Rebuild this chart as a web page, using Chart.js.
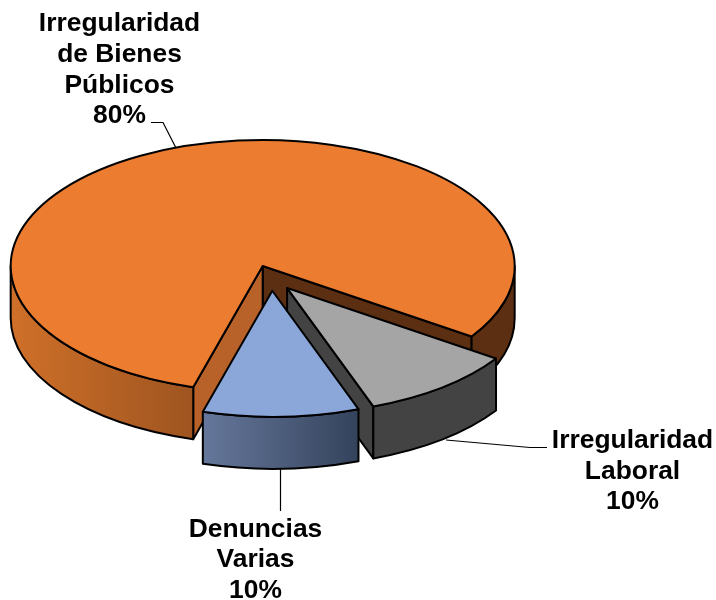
<!DOCTYPE html>
<html><head><meta charset="utf-8">
<style>html,body{margin:0;padding:0;background:#fff}#w{width:716px;height:600px}</style>
<script src="https://cdn.jsdelivr.net/npm/chart.js@4"></script></head>
<body><div id="w"><canvas id="c"></canvas></div>
<script>
const categories = ['Irregularidad de Bienes Públicos','Irregularidad Laboral','Denuncias Varias'];
const values = [80,10,10];
const labelLines = [['Irregularidad','de Bienes','Públicos'],['Irregularidad','Laboral'],['Denuncias','Varias']];
const topColors = ['#EB7C30','#A5A5A5','#8BA7DA'];
const wallStops = [
  [[0,'#CF7029'],[0.36,'#9F5520'],[0.9,'#5C2F13'],[1,'#5C2F13']],
  [[0,'#434343'],[1,'#434343']],
  [[0,'#65779B'],[1,'#34435C']]
];
const startFaceColors = ['#B8622A','#434343','#434343'];
const endFaceColors = ['#5C2F13','#434343','#34435C'];
const TILT = 0.5, DEPTH = 52, EXPLODE = 25.5, LW = 2;
const labelPos = [
  {x:119.5, ys:[31,62,92.5,123]},
  {x:632.5, ys:[448,479,509]},
  {x:255.5, ys:[537,567,598]}
];
const leaders = [
  [[151,122.5],[163,122.5],[176,148]],
  [[547,447.5],[530,447.5],[446,440]],
  [[280.5,469],[280.5,511]]
];
const TAU = Math.PI*2;
const pie3d = {
  id:'pie3d',
  beforeDatasetDraw(chart,args){
    const ctx = chart.ctx;
    const arcs = args.meta.data;
    ctx.save();
    ctx.lineJoin='round';
    arcs.forEach((el,i)=>{
      const p = el.getProps(['x','y','startAngle','endAngle','outerRadius']);
      const mid=(p.startAngle+p.endAngle)/2, off=el.options.offset;
      const rx=p.outerRadius, ry=rx*TILT;
      const cx=p.x+Math.cos(mid)*off, cy=p.y+Math.sin(mid)*off*TILT;
      const a0=p.startAngle, a1=p.endAngle;
      const pt=(a,d=0)=>[cx+rx*Math.cos(a), cy+ry*Math.sin(a)+d];
      ctx.strokeStyle=el.options.borderColor; ctx.lineWidth=LW;
      const face=(a,col)=>{
        const r=pt(a), r2=pt(a,DEPTH);
        ctx.beginPath(); ctx.moveTo(cx,cy); ctx.lineTo(r[0],r[1]); ctx.lineTo(r2[0],r2[1]); ctx.lineTo(cx,cy+DEPTH); ctx.closePath();
        ctx.fillStyle=col; ctx.fill(); ctx.stroke();
      };
      if(Math.sin(a1+Math.PI/2)>0) face(a1,endFaceColors[i]);
      if(Math.sin(a0-Math.PI/2)>0) face(a0,startFaceColors[i]);
      let xs=[];
      for(const k of [0,TAU]){
        const s=Math.max(a0,k), e=Math.min(a1,k+Math.PI);
        if(e>s) xs.push([s,e]);
      }
      let xmin=1e9,xmax=-1e9;
      xs.forEach(([s,e])=>{ for(let t=0;t<=40;t++){const x=pt(s+(e-s)*t/40)[0]; xmin=Math.min(xmin,x); xmax=Math.max(xmax,x);} });
      const g=ctx.createLinearGradient(xmin,0,xmax,0);
      wallStops[i].forEach(([o,c])=>g.addColorStop(o,c));
      xs.forEach(([s,e])=>{
        ctx.beginPath();
        ctx.ellipse(cx,cy,rx,ry,0,s,e);
        ctx.ellipse(cx,cy+DEPTH,rx,ry,0,e,s,true);
        ctx.closePath();
        ctx.fillStyle=g; ctx.fill(); ctx.stroke();
      });
      ctx.beginPath(); ctx.moveTo(cx,cy); ctx.ellipse(cx,cy,rx,ry,0,a0,a1); ctx.closePath();
      ctx.fillStyle=el.options.backgroundColor; ctx.fill(); ctx.stroke();
    });
    ctx.strokeStyle='#000'; ctx.lineWidth=1.2;
    leaders.forEach(l=>{ctx.beginPath(); l.forEach(([x,y],j)=>j?ctx.lineTo(x,y):ctx.moveTo(x,y)); ctx.stroke();});
    ctx.fillStyle='#000'; ctx.font='bold 26.4px "Liberation Sans"'; ctx.textAlign='center'; ctx.textBaseline='alphabetic';
    labelLines.forEach((lines,i)=>{
      const all=[...lines, values[i]+'%'];
      all.forEach((t,j)=>ctx.fillText(t,labelPos[i].x,labelPos[i].ys[j]));
    });
    ctx.restore();
    return false;
  }
};
new Chart(document.getElementById('c'),{
  type:'pie',
  data:{labels:categories,datasets:[{data:values,backgroundColor:topColors,borderColor:'#000',borderWidth:0,offset:EXPLODE,radius:252}]},
  options:{
    responsive:true,maintainAspectRatio:false,animation:false,rotation:196,
    layout:{padding:{left:0,top:0,right:173.2,bottom:44}},
    plugins:{legend:{display:false},tooltip:{enabled:false}}
  },
  plugins:[pie3d]
});
</script></body></html>
